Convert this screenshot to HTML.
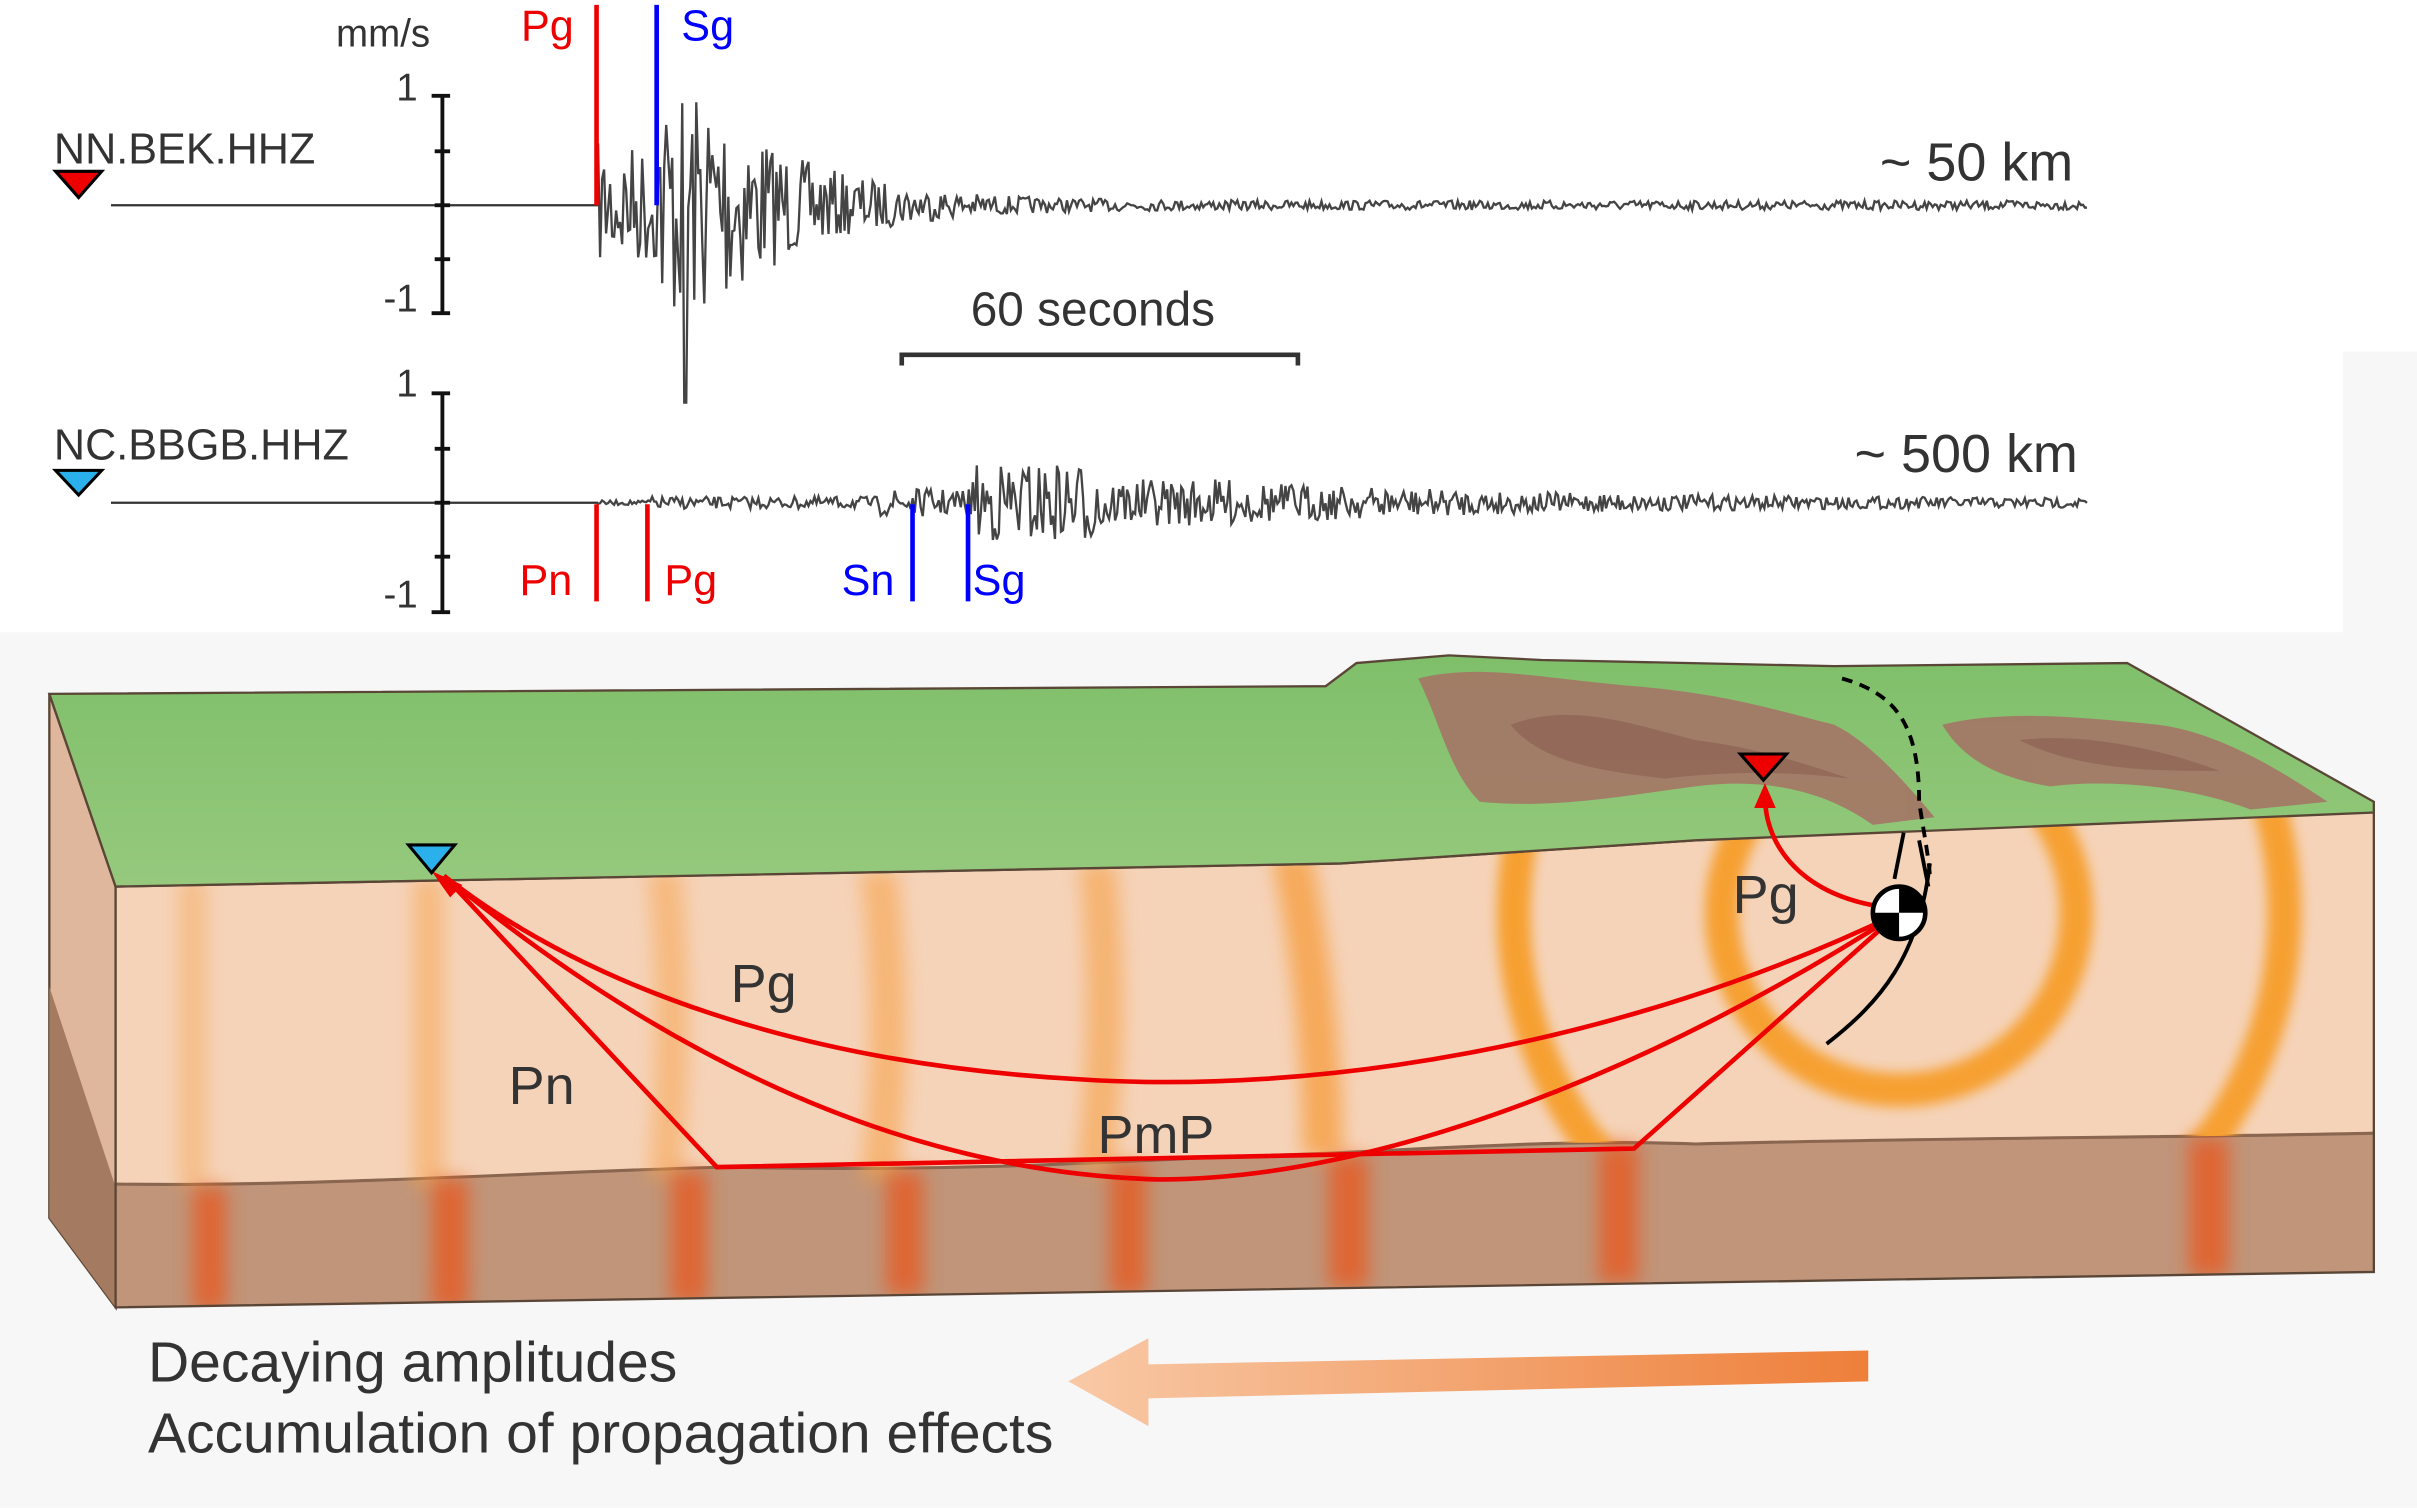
<!DOCTYPE html>
<html><head><meta charset="utf-8"><style>
html,body{margin:0;padding:0;background:#fff;}
svg{display:block;}
text{font-family:"Liberation Sans",sans-serif;}
</style></head><body>
<svg id="s" width="2417" height="1508" viewBox="0 0 1568 978" xmlns="http://www.w3.org/2000/svg">
<defs>
<filter id="bl" x="-50%" y="-50%" width="200%" height="200%"><feGaussianBlur stdDeviation="6"/></filter>
<filter id="bl2"><feGaussianBlur stdDeviation="4"/></filter>
<linearGradient id="ar" x1="0" x2="1"><stop offset="0" stop-color="#f8c9a6"/><stop offset="1" stop-color="#ee7f3a"/></linearGradient>
<linearGradient id="gr" x1="0" y1="0" x2="0" y2="1"><stop offset="0" stop-color="#7fbf6a"/><stop offset="1" stop-color="#96c97d"/></linearGradient>
<clipPath id="front"><polygon points="75,575 870,560 1100,545 1540,525 1540,825 75,848"/></clipPath>
<clipPath id="upper"><path d="M75,575 L870,560 1100,545 1540,525 L1540,735 C1400,738 1250,738 1100,742 C1000,738 900,748 800,750 C700,755 600,760 470,757 C350,760 200,770 75,768Z"/></clipPath>
</defs>
<rect x="0" y="410" width="1568" height="568" fill="#f7f7f7"/>
<rect x="1520" y="228" width="48" height="200" fill="#f7f7f7"/>

<!-- seismogram 1 -->
<text x="218" y="30" font-size="25" fill="#333">mm/s</text>
<line x1="72" y1="133" x2="388" y2="133" stroke="#333" stroke-width="1.5"/>
<g stroke="#111" stroke-width="2.5"><line x1="287" y1="62" x2="287" y2="203"/>
<line x1="280" y1="62" x2="292" y2="62"/><line x1="282" y1="98" x2="292" y2="98"/><line x1="282" y1="133" x2="292" y2="133"/><line x1="282" y1="168" x2="292" y2="168"/><line x1="280" y1="203" x2="292" y2="203"/></g>
<text x="271" y="65" font-size="25" fill="#333" text-anchor="end">1</text>
<text x="271" y="202" font-size="25" fill="#333" text-anchor="end">-1</text>
<text x="35" y="106" font-size="28" fill="#333">NN.BEK.HHZ</text>
<polygon points="36,111 66,111 51,128" fill="#e00" stroke="#000" stroke-width="2"/>
<path id="w1" fill="none" stroke="#444" stroke-width="1.5"/>
<line x1="387" y1="3" x2="387" y2="133" stroke="#e00" stroke-width="3"/>
<line x1="426" y1="3" x2="426" y2="133" stroke="#00f" stroke-width="3"/>
<text x="338" y="26" font-size="28" fill="#e00">Pg</text>
<text x="442" y="26" font-size="28" fill="#00f">Sg</text>
<text x="1345" y="117" font-size="35" fill="#333" text-anchor="end">~ 50 km</text>
<text x="709" y="211" font-size="31" fill="#333" text-anchor="middle">60 seconds</text>
<path d="M585,237 V230 H842 V237" fill="none" stroke="#333" stroke-width="3"/>

<!-- seismogram 2 -->
<line x1="72" y1="326" x2="388" y2="326" stroke="#333" stroke-width="1.5"/>
<g stroke="#111" stroke-width="2.5"><line x1="287" y1="255" x2="287" y2="397"/>
<line x1="280" y1="255" x2="292" y2="255"/><line x1="282" y1="291" x2="292" y2="291"/><line x1="282" y1="326" x2="292" y2="326"/><line x1="282" y1="361" x2="292" y2="361"/><line x1="280" y1="397" x2="292" y2="397"/></g>
<text x="271" y="257" font-size="25" fill="#333" text-anchor="end">1</text>
<text x="271" y="394" font-size="25" fill="#333" text-anchor="end">-1</text>
<text x="35" y="298" font-size="28" fill="#333">NC.BBGB.HHZ</text>
<polygon points="36,305 66,305 51,321" fill="#2ab0ea" stroke="#000" stroke-width="2"/>
<path id="w2" fill="none" stroke="#444" stroke-width="1.5"/>
<text x="1348" y="306" font-size="35" fill="#333" text-anchor="end">~ 500 km</text>
<g stroke-width="3"><line x1="387" y1="327" x2="387" y2="390" stroke="#e00"/><line x1="420" y1="327" x2="420" y2="390" stroke="#e00"/>
<line x1="592" y1="327" x2="592" y2="390" stroke="#00f"/><line x1="628" y1="327" x2="628" y2="390" stroke="#00f"/></g>
<text x="337" y="386" font-size="28" fill="#e00">Pn</text>
<text x="431" y="386" font-size="28" fill="#e00">Pg</text>
<text x="546" y="386" font-size="28" fill="#00f">Sn</text>
<text x="631" y="386" font-size="28" fill="#00f">Sg</text>

<!-- block -->
<polygon points="32,450 75,575 75,848 32,790" fill="#dfb79c" stroke="#5a4636" stroke-width="1.5"/>
<polygon points="32,640 75,770 75,848 32,790" fill="#a47a60"/>
<polygon points="75,575 870,560 1100,545 1540,525 1540,825 75,848" fill="#f5d3b9"/>
<g clip-path="url(#front)">
<path d="M75,768 C200,770 350,760 470,757 C600,760 700,755 800,750 C900,748 1000,738 1100,742 C1250,738 1400,738 1540,735 L1540,830 L75,850Z" fill="#c0957a"/>
<path d="M75,768 C200,770 350,760 470,757 C600,760 700,755 800,750 C900,748 1000,738 1100,742 C1250,738 1400,738 1540,735" fill="none" stroke="#8a6650" stroke-width="2"/>
<g filter="url(#bl)" fill="#f6a24a" opacity="0.85">
<rect x="116" y="570" width="18" height="200" opacity="0.5"/>
<rect x="268" y="570" width="20" height="200" opacity="0.6"/>
<path d="M420,565 h22 q10,100 0,200 h-22 q10,-100 0,-200z" opacity="0.6"/>
<path d="M558,565 h24 q12,100 0,200 h-24 q12,-100 0,-200z" opacity="0.7"/>
<path d="M700,560 h24 q10,100 -2,200 h-24 q12,-100 2,-200z" opacity="0.75"/>
<path d="M825,555 h26 q20,100 20,195 h-26 q0,-95 -20,-195z"/>
</g>
<g filter="url(#bl)" fill="#e8571c" opacity="0.75">
<rect x="125" y="770" width="22" height="80"/><rect x="280" y="765" width="24" height="85"/><rect x="435" y="760" width="24" height="85"/>
<rect x="575" y="760" width="24" height="80"/><rect x="720" y="755" width="24" height="85"/><rect x="862" y="750" width="26" height="85"/>
<rect x="1037" y="742" width="26" height="90"/><rect x="1420" y="738" width="26" height="90"/>
</g>
<g clip-path="url(#upper)"><g filter="url(#bl2)" fill="none" stroke="#f6a030" stroke-width="22">
<circle cx="1232" cy="592" r="115"/>
<circle cx="1232" cy="592" r="250"/>
</g></g>
</g>
<polygon points="75,575 870,560 1100,545 1540,525 1540,825 75,848" fill="none" stroke="#5a4636" stroke-width="1.5"/>
<!-- top surface -->
<polygon points="32,450 860,445 880,430 940,425 1000,428 1190,432 1380,430 1540,520 1540,527 1100,545 870,560 75,575" fill="url(#gr)" stroke="#5a4636" stroke-width="1.5"/>
<g fill="#a47566" opacity="0.9">
<path d="M920,440 C960,430 1000,440 1060,445 C1120,450 1150,460 1190,470 C1210,480 1230,500 1255,530 L1215,535 C1180,510 1140,505 1100,510 C1060,515 1010,525 960,520 C940,500 935,470 920,440Z"/>
<path d="M1260,470 C1300,460 1350,465 1400,470 C1440,475 1480,500 1510,520 L1460,525 C1420,510 1370,505 1330,510 C1300,505 1275,495 1260,470Z"/>
</g>
<g fill="#8b5e50" opacity="0.6"><path d="M980,470 C1020,455 1060,470 1100,480 C1140,485 1170,495 1200,505 C1160,500 1120,500 1080,505 C1040,500 1000,495 980,470Z"/>
<path d="M1310,480 C1350,475 1400,485 1440,500 C1400,500 1350,500 1310,480Z"/></g>
<path d="M1195,440 C1230,450 1245,470 1245,520 C1248,540 1252,560 1252,570" fill="none" stroke="#000" stroke-width="2.5" stroke-dasharray="7,5"/>
<!-- rays -->
<g fill="none" stroke="#e00" stroke-width="3">
<path d="M1232,592 C1050,680 850,710 700,700 C520,690 380,640 288,568"/>
<path d="M1232,592 C1080,690 900,765 752,765 C560,760 400,660 288,568"/>
<path d="M1232,592 L1060,745 L465,757 L288,568"/>
<path d="M1220,588 C1170,580 1145,550 1145,516"/>
</g>
<polygon points="280,565 300,574 292,582" fill="#e00"/>
<polygon points="1145,508 1138,524 1152,524" fill="#e00"/>
<path d="M1185,677 C1220,650 1245,620 1252,560" fill="none" stroke="#000" stroke-width="2.5"/>
<g stroke="#000" stroke-width="2.5"><line x1="1235" y1="540" x2="1229" y2="570"/><line x1="1245" y1="545" x2="1251" y2="575"/></g>
<circle cx="1232" cy="592" r="17" fill="#fff" stroke="#000" stroke-width="3"/>
<path d="M1232,592 L1232,575 A17,17 0 0 1 1249,592Z M1232,592 L1232,609 A17,17 0 0 1 1215,592Z" fill="#000"/>
<polygon points="1129,489 1159,489 1144,506" fill="#e00" stroke="#000" stroke-width="2"/>
<polygon points="265,548 295,548 280,566" fill="#2ab0ea" stroke="#000" stroke-width="2"/>
<text x="1124" y="592" font-size="35" fill="#333">Pg</text>
<text x="474" y="650" font-size="35" fill="#333">Pg</text>
<text x="330" y="716" font-size="35" fill="#333">Pn</text>
<text x="712" y="748" font-size="35" fill="#333">PmP</text>
<!-- bottom arrow -->
<polygon points="1212,876 745,885 745,868 693,896 745,925 745,907 1212,896" fill="url(#ar)"/>
<text x="96" y="896" font-size="37" fill="#333">Decaying amplitudes</text>
<text x="96" y="942" font-size="37" fill="#333">Accumulation of propagation effects</text>
</svg>
<script>
var seed=7;function r(){seed=(seed*16807)%2147483647;return seed/2147483647-0.5;}
function wave(id,y0,parts){var d="M388,"+y0;for(var x=388;x<=1355;x+=1.3){var a=parts(x);var v=r()*2*a;if(id=="w1"&&x>443&&x<446)v=128;d+=" L"+x.toFixed(1)+","+(y0+v).toFixed(1);}document.getElementById(id).setAttribute("d",d);}
wave("w1",133,function(x){if(x<426)return 40;if(x<470)return 75;if(x<560)return 60*Math.exp(-(x-470)/50)+8;return 15*Math.exp(-(x-560)/60)+3;});
wave("w2",326,function(x){if(x<420)return 1.5;if(x<570)return 4;if(x<630)return 9;if(x<720)return 26;if(x<800)return 15;return 12*Math.exp(-(x-800)/200)+2.5;});
</script>
</body></html>
